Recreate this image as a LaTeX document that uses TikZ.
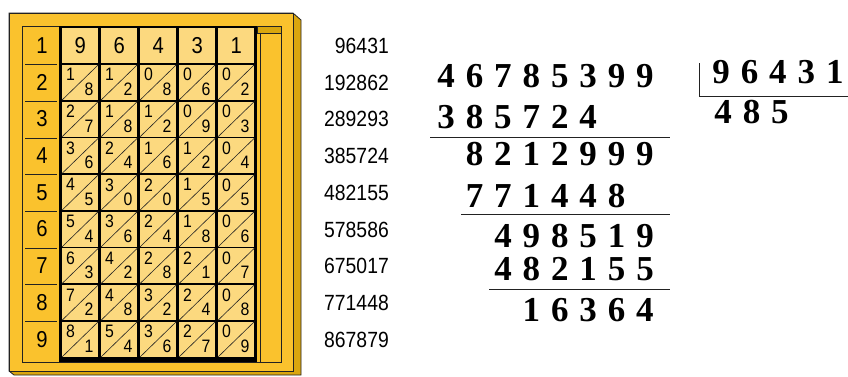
\documentclass[tikz,border=0pt]{standalone}
\usepackage{fontspec}
\newfontfamily\rodfont[FakeStretch=0.88]{Liberation Sans}
\newfontfamily\sumfont{Liberation Serif}
\definecolor{frameyellow}{HTML}{FAC22D}
\definecolor{shadeyellow}{HTML}{DAA60E}
\definecolor{celllight}{HTML}{FCD97F}
\definecolor{inkgray}{HTML}{222222}

% digits set at a fixed pitch, for the long division
\newcommand\pitched[1]{\pitchedstep#1\relax}
\def\pitchedstep#1{\ifx#1\relax\else\makebox[28.4pt]{#1}\expandafter\pitchedstep\fi}

\begin{document}
\begin{tikzpicture}[
  x=1pt, y=-1pt,
  board/.style={draw=inkgray, line width=0.8pt},
  cell/.style={fill=celllight, minimum width=36pt, minimum height=35pt,
               inner sep=0pt, anchor=north west},
  bigdigit/.style={font=\rodfont\fontsize{23}{23}\selectfont, inner sep=0pt},
  smalldigit/.style={font=\rodfont\fontsize{18}{18}\selectfont, inner sep=0pt},
  proddigit/.style={font=\rodfont\fontsize{22}{22}\selectfont, inner sep=0pt,
                    anchor=east},
  sumrow/.style={font=\sumfont\bfseries\fontsize{35}{35}\selectfont,
                 inner sep=0pt, anchor=base west},
  rule/.style={draw=inkgray, line width=1pt}
]
\useasboundingbox (0,0) rectangle (848,376);

%--- Napier board: shadow, frame, cell bed ---
\filldraw[board, fill=shadeyellow]
  (9,13) -- (293,13) -- (301,20) -- (301,375) -- (14,375) -- (9,371) -- cycle;
\filldraw[board, fill=frameyellow] (9,13) rectangle (293,371);
\draw[board] (22,26) rectangle (281,362);
\fill[black] (59,26) rectangle (257,362);
\filldraw[board, fill=shadeyellow] (257,26) rectangle (281,33);
\draw[board] (260,33) rectangle (281,362);

%--- Index column ---
\foreach \r in {1,...,9}
  \node[bigdigit] (idx\r) at (42, {45.5+36.7*(\r-1)}) {\r};
\foreach \r in {1,...,8}
  \draw[board, line width=0.7pt] (25, {64.5+36.7*(\r-1)}) -- (57, {64.5+36.7*(\r-1)});

%--- Rods: head digit, then one lattice cell per multiple ---
\foreach \d [count=\j] in {9,6,4,3,1} {
  \node[cell] (hd\j) at ({62+39*(\j-1)}, 28) {};
  \node[bigdigit] (hdd\j) at (hd\j) {\d};
  \foreach \r in {2,...,9} {
    \pgfmathtruncatemacro\tens{int(\r*\d/10)}
    \pgfmathtruncatemacro\units{mod(\r*\d,10)}
    \node[cell] (c\r-\j) at ({62+39*(\j-1)}, {28+36.7*(\r-1)}) {};
    \draw[inkgray, line width=0.6pt] (c\r-\j.south west) -- (c\r-\j.north east);
    \node[smalldigit] (t\r-\j) at ([shift={(8.5,10)}]c\r-\j.north west) {\tens};
    \node[smalldigit] (u\r-\j) at ([shift={(27,24.5)}]c\r-\j.north west) {\units};
  }
}

%--- Multiples of the divisor ---
\foreach \p [count=\r] in {96431,192862,289293,385724,482155,578586,675017,771448,867879}
  \node[proddigit] (prod\r) at (389, {46+36.7*(\r-1)}) {\p};

%--- Long division ---
\node[sumrow] (dvd)   at (431.8, 87)  {\pitched{46785399}};
\node[sumrow] (sub1)  at (431.8, 128) {\pitched{385724}};
\node[sumrow] (rem1)  at (460.2, 165) {\pitched{8212999}};
\node[sumrow] (sub2)  at (460.2, 207) {\pitched{771448}};
\node[sumrow] (rem2)  at (488.6, 247) {\pitched{498519}};
\node[sumrow] (sub3)  at (488.6, 280) {\pitched{482155}};
\node[sumrow] (rem3)  at (517.0, 321) {\pitched{16364}};
\node[sumrow] (dvs)   at (706.8, 83)  {\pitched{96431}};
\node[sumrow] (quot)  at (708.8, 123) {\pitched{485}};

\coordinate (r1a) at (430,137);  \coordinate (r1b) at (670,137);
\coordinate (r2a) at (461,214);  \coordinate (r2b) at (670,214);
\coordinate (r3a) at (489,289);  \coordinate (r3b) at (670,289);
\coordinate (brk) at (699,63);   \coordinate (brc) at (699,96);
\coordinate (bre) at (848,96);
\draw[rule] (r1a) -- (r1b);
\draw[rule] (r2a) -- (r2b);
\draw[rule] (r3a) -- (r3b);
\draw[rule] (brk) -- (brc) -- (bre);

\end{tikzpicture}
\end{document}
